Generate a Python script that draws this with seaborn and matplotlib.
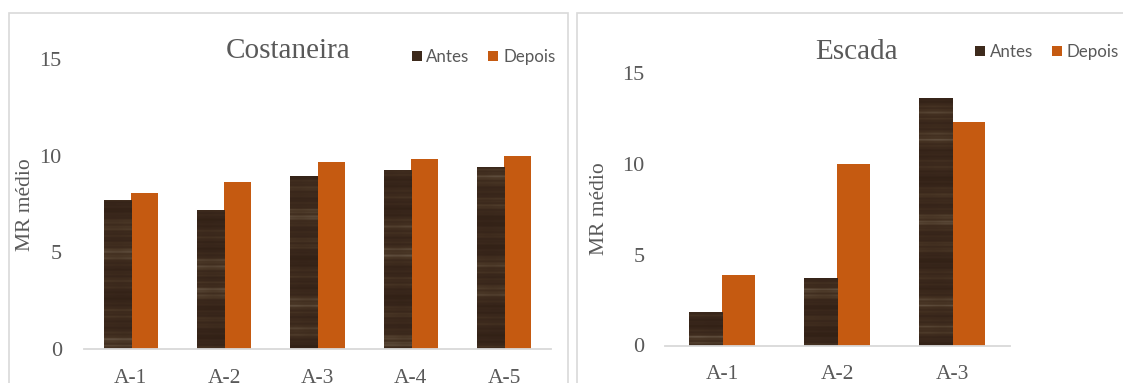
import numpy as np
import pandas as pd
import matplotlib
matplotlib.use("Agg")
import matplotlib.pyplot as plt
from matplotlib.patches import Rectangle
from matplotlib.colors import LinearSegmentedColormap
import seaborn as sns

# ---- data ----
costaneira_amostras = ["A-1", "A-2", "A-3", "A-4", "A-5"]
costaneira_antes = [7.72, 7.20, 8.97, 9.23, 9.39]
costaneira_depois = [8.07, 8.66, 9.67, 9.81, 9.98]

escada_amostras = ["A-1", "A-2", "A-3"]
escada_antes = [1.86, 3.72, 13.60]
escada_depois = [3.86, 9.97, 12.30]

momentos = ["Antes", "Depois"]
yticks = [0, 5, 10, 15]

# ---- style ----
sns.set_theme(style="white")
plt.rcParams["font.family"] = ["Liberation Serif", "DejaVu Serif"]

W, H, DPI = 1123, 383, 100
TXT = "#595959"
GRID = "#d9d9d9"
ORANGE = "#c55a11"
BROWN = "#3d2a1c"
palette = {"Antes": BROWN, "Depois": ORANGE}

wood_cmap = LinearSegmentedColormap.from_list(
    "wood", ["#2c1c10", "#37251a", "#3f2c1e", "#4b3827", "#615040"])


def wood_texture(rows=300, cols=16, phase=0.0):
    """Horizontal wood-grain streaks for the 'Antes' bars."""
    y = np.arange(rows)[:, None].astype(float)
    x = np.arange(cols)[None, :].astype(float)
    g = (0.30 * np.sin(y * 0.21 + phase)
         + 0.22 * np.sin(y * 0.063 + 1.3 + phase)
         + 0.18 * np.sin(y * 0.83 + 0.7 * phase)
         + 0.12 * np.sin(y * 1.9 + 2.0 + phase)
         + 0.03 * np.sin(x * 0.4 + y * 0.02))
    g = (g - g.min()) / (g.max() - g.min())
    return 0.15 + 0.85 * g ** 1.8


def px(x, y):
    return x / W, 1 - y / H


fig = plt.figure(figsize=(W / DPI, H / DPI), dpi=DPI)
fig.patch.set_facecolor("white")

# chart frames
for x0, x1 in [(8.5, 567.5), (576.5, 1135)]:
    fig.add_artist(Rectangle((x0 / W, -0.05), (x1 - x0) / W, 1.05 - 13.5 / H,
                             transform=fig.transFigure, fill=False,
                             edgecolor=GRID, linewidth=1.2))


def panel(rect, amostras, antes, depois, title, title_xy, legend_xy, ylabel_xy, ypad):
    ax = fig.add_axes(rect)
    df = pd.DataFrame({
        "Amostra": amostras * 2,
        "MR": list(antes) + list(depois),
        "Momento": ["Antes"] * len(amostras) + ["Depois"] * len(amostras),
    })
    sns.barplot(data=df, x="Amostra", y="MR", hue="Momento", hue_order=momentos,
                palette=palette, width=0.58, gap=0, saturation=1, linewidth=0,
                errorbar=None, legend=False, ax=ax)
    ax.set_ylim(0, 15)
    ax.set_xlim(-0.5, len(amostras) - 0.5)
    ax.set_autoscale_on(False)

    # wood grain inside the 'Antes' bars
    for i, bar in enumerate(ax.containers[0]):
        bx, by = bar.get_x(), bar.get_y()
        bw, bh = bar.get_width(), bar.get_height()
        tex = wood_texture(rows=max(12, int(bh * 20)), phase=i * 2.1)
        im = ax.imshow(tex, cmap=wood_cmap, vmin=0, vmax=1, aspect="auto",
                       extent=(bx, bx + bw, by, by + bh), interpolation="bilinear",
                       origin="lower", zorder=bar.get_zorder() + 0.1)
        im.set_clip_path(bar)

    ax.set_yticks(yticks)
    ax.set_xlabel("")
    ax.set_ylabel("")
    ax.tick_params(axis="y", length=0, pad=ypad, labelsize=16, labelcolor=TXT)
    ax.tick_params(axis="x", length=0, pad=14, labelsize=15.5, labelcolor=TXT)
    for s in ["top", "right", "left"]:
        ax.spines[s].set_visible(False)
    ax.spines["bottom"].set_color(GRID)
    ax.spines["bottom"].set_linewidth(1.3)
    ax.spines["bottom"].set_zorder(5)
    ax.set_facecolor("none")

    fig.text(*px(*title_xy), title, ha="center", va="center",
             fontsize=21, color=TXT)
    fig.text(*px(*ylabel_xy), "MR médio", rotation=90, ha="center", va="center",
             fontsize=15.5, color=TXT)

    handles = [Rectangle((0, 0), 1, 1, facecolor=palette[m], edgecolor="none")
               for m in momentos]
    fig.legend(handles, momentos, loc="center left",
               bbox_to_anchor=px(*legend_xy), ncol=2, frameon=False,
               borderpad=0, borderaxespad=0, handlelength=0.6, handleheight=0.6,
               handletextpad=0.28, columnspacing=1.1,
               prop={"family": ["Lato", "DejaVu Sans"], "size": 12.2},
               labelcolor=TXT)
    return ax


panel([84 / W, 1 - 349.3 / H, 467 / W, 290.6 / H],
      costaneira_amostras, costaneira_antes, costaneira_depois,
      "Costaneira", (288, 51), (411.5, 57), (26, 205), 16)

panel([664.5 / W, 1 - 345.5 / H, 345 / W, 272.5 / H],
      escada_amostras, escada_antes, escada_depois,
      "Escada", (856, 52), (975, 52), (600, 209), 14.5)

fig.savefig("out.png", dpi=DPI, facecolor="white")
